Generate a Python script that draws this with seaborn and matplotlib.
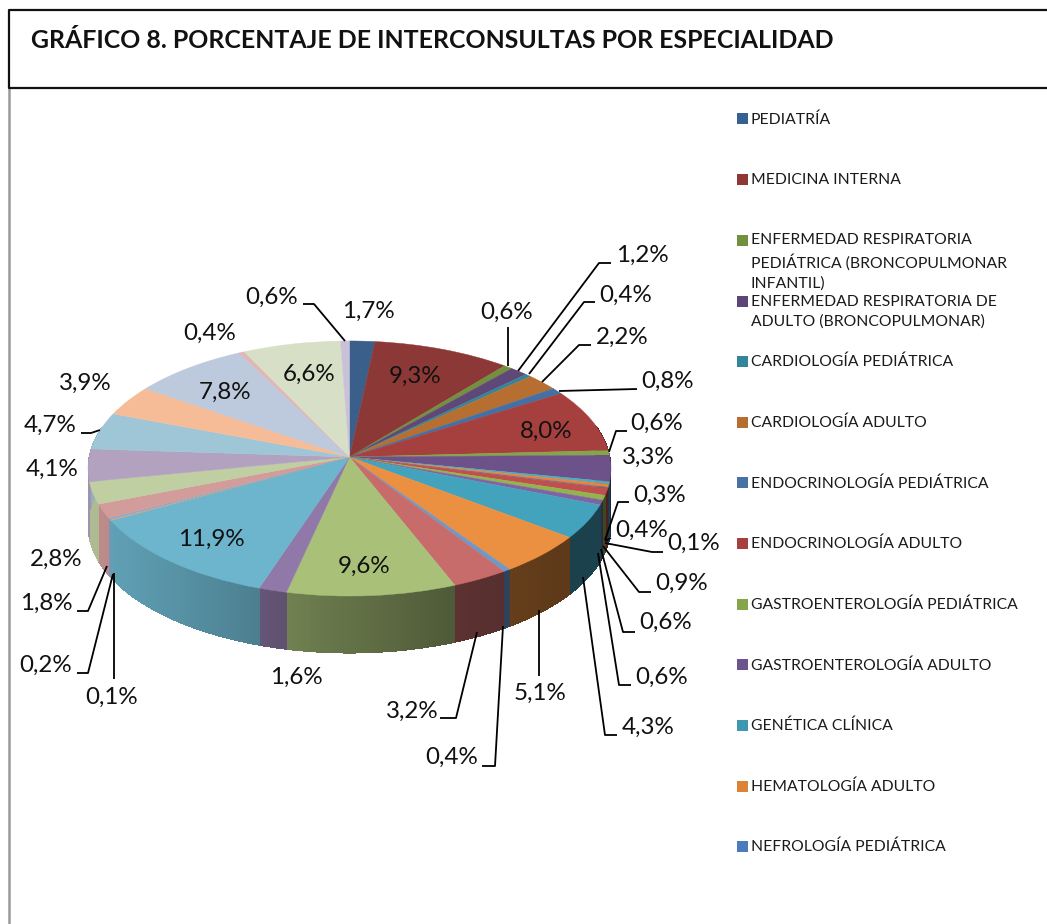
import numpy as np
import matplotlib
matplotlib.use("Agg")
import matplotlib.pyplot as plt
from matplotlib.patches import Rectangle
from matplotlib.collections import PolyCollection
from matplotlib.transforms import Transform
import seaborn as sns

TITLE = "GRÁFICO 8. PORCENTAJE DE INTERCONSULTAS POR ESPECIALIDAD"

# Slices, clockwise from twelve o'clock
values = [1.7, 9.3, 0.6, 1.2, 0.4, 2.2, 0.8, 8.0, 0.6, 3.3, 0.3, 0.4, 0.1, 0.9, 0.6, 0.6, 4.3,
          5.1, 0.4, 3.2, 9.6, 1.6, 11.9, 0.1, 0.2, 1.8, 2.8, 4.1, 4.7, 3.9, 7.8, 0.4, 6.6, 0.6]

slice_colors = ["#3A5F8B", "#8C3836", "#748F3E", "#5F4878", "#33859A", "#B66F30", "#4470A6", "#A5403E",
                "#86A44A", "#6C5288", "#4BACC6", "#E5843A", "#4F81BD", "#BF504D", "#93B34F", "#8064A2",
                "#43A3BD", "#EA9040", "#6F98C8", "#C76C6A", "#A8C078", "#9079A8", "#6CB5CD", "#F0A060",
                "#8AA8D0", "#D19C9A", "#C0CFA2", "#B2A2C0", "#9FC6D6", "#F6BC98", "#BDC9DC", "#DDB8B6",
                "#D7DFC6", "#C9C1D7"]

# Legend
legend_labels = ["PEDIATRÍA", "MEDICINA INTERNA",
                 "ENFERMEDAD RESPIRATORIA\nPEDIÁTRICA (BRONCOPULMONAR\nINFANTIL)",
                 "ENFERMEDAD RESPIRATORIA DE\nADULTO (BRONCOPULMONAR)",
                 "CARDIOLOGÍA PEDIÁTRICA", "CARDIOLOGÍA ADULTO", "ENDOCRINOLOGÍA PEDIÁTRICA",
                 "ENDOCRINOLOGÍA ADULTO", "GASTROENTEROLOGÍA PEDIÁTRICA", "GASTROENTEROLOGÍA ADULTO",
                 "GENÉTICA CLÍNICA", "HEMATOLOGÍA ADULTO", "NEFROLOGÍA PEDIÁTRICA"]
legend_colors = ["#376092", "#8E3835", "#748F3E", "#5D4578", "#33859A", "#B66D31", "#4672A6",
                 "#A5403E", "#86A44A", "#6E548D", "#3F98AF", "#DB8438", "#4B7BBA"]
legend_y = [118.5, 179, 240, 301, 361, 422, 482.5, 543, 604, 664.5, 725, 786, 846]

# Layout only (pixel positions)
label_pos = [(368, 310), (415, 375), (507, 311), (642, 254), (626, 294), (622, 336), (667, 380), (546, 430),
             (657, 422), (648, 456), (660, 494), (642, 529), (694, 542), (682, 582), (666, 621), (662, 676),
             (648, 726), (540, 692), (452, 756), (412, 710), (364, 565), (296, 676), (211, 538), (112, 696),
             (46, 664), (46, 602), (56, 558), (52, 468), (50, 424), (85, 382), (225, 391), (210, 332),
             (309, 373), (272, 296)]
leaders = [[(508, 327), (508, 366)],
           [(611, 263), (599, 263), (518, 371)],
           [(595, 302), (584, 302), (529, 374)],
           [(591, 345), (579, 345), (542, 382)],
           [(637, 389), (559, 391)],
           [(627, 431), (616, 431), (609, 452)],
           [(629, 502), (618, 502), (605, 540)],
           [(611, 538), (605, 541)],
           [(663, 552), (652, 552), (605, 543)],
           [(651, 592), (639, 592), (603, 546)],
           [(635, 632), (623, 632), (601, 549)],
           [(631, 685), (619, 685), (598, 553)],
           [(617, 735), (605, 735), (583, 577)],
           [(539, 676), (539, 610)],
           [(482, 766), (495, 766), (503, 626)],
           [(440, 718), (456, 718), (477, 632)],
           [(114, 679), (114, 573)],
           [(77, 673), (88, 673), (113, 574)],
           [(77, 611), (88, 611), (107, 566)],
           [(81, 433), (91, 433), (100, 430)],
           [(303, 304), (314, 304), (345, 341)]]

CX, CY, A, B, K, DEPTH = 349.5, 457.0, 126.5, 260.4, 0.0902, 57.0
FONT = "Lato"


class TiltedDisc(Transform):
    """Projects the unit pie disc onto the tilted plane seen in the picture."""
    input_dims = output_dims = 2
    is_separable = False
    has_inverse = False

    def transform_non_affine(self, xy):
        xy = np.asarray(xy, float)
        w = 1 + K * xy[:, 1]
        return np.column_stack([CX + B * xy[:, 0] / w, CY - A * xy[:, 1] / w])


sns.set_theme(style="white")
plt.rcParams["font.family"] = [FONT, "DejaVu Sans"]

fig = plt.figure(figsize=(10.47, 9.24), dpi=100, facecolor="white")
ax = fig.add_axes([0, 0, 1, 1])
wedges, _ = ax.pie(values, colors=slice_colors, startangle=90, counterclock=False,
                   wedgeprops=dict(linewidth=0.3), radius=1.0)
ax.set_aspect("auto")
ax.set_xlim(0, 1047)
ax.set_ylim(924, 0)
ax.axis("off")

disc = TiltedDisc()
for w in wedges:
    w.set_transform(disc + ax.transData)
    w.set_zorder(3)
    w.set_edgecolor(w.get_facecolor())

# Extruded rim under the front half of the disc
quads, shades = [], []
for w, col in zip(wedges, slice_colors):
    th = np.radians(np.arange(w.theta1, w.theta2 + 1.0, 1.0))
    if len(th) < 2:
        th = np.radians([w.theta1, w.theta2])
    else:
        th[-1] = np.radians(w.theta2)
    pts = disc.transform_non_affine(np.column_stack([np.cos(th), np.sin(th)]))
    rgb = np.array(matplotlib.colors.to_rgb(col))
    for p, q, t in zip(pts[:-1], pts[1:], th[:-1]):
        if np.sin(t) > 0.25:
            continue
        quads.append([p, q, q + (0, DEPTH), p + (0, DEPTH)])
        f = np.interp((p[0] + q[0]) / 2, [100, 450, 560], [0.9, 0.47, 0.4])
        shades.append(rgb * f)
ax.add_collection(PolyCollection(quads, facecolors=shades, edgecolors="none", linewidths=0,
                                 antialiaseds=False, zorder=2))

# Value labels and leader lines
for v, (x, y) in zip(values, label_pos):
    ax.text(x, y + 1, f"{v:.1f}%".replace(".", ","), ha="center", va="center", fontsize=17.4,
            color="#111111", zorder=5)
for line in leaders:
    xs, ys = zip(*line)
    ax.plot(xs, ys, color="black", lw=1.3, zorder=4, solid_capstyle="butt")

# Legend
for lab, col, y in zip(legend_labels, legend_colors, legend_y):
    ax.add_patch(Rectangle((737, y - 5.5), 11, 11, facecolor=col, edgecolor="none", zorder=4))
    ax.text(751, y - 6.5, lab, ha="left", va="top", fontsize=11.35, color="#1a1a1a",
            linespacing=1.5, zorder=5)

# Frame and title
ax.plot([9, 9], [88, 924], color="#999999", lw=1.8, zorder=1)
ax.plot([1047, 9, 9, 1047], [10, 10, 88, 88], color="#111111", lw=1.6, zorder=6)
ax.text(31, 41, TITLE, ha="left", va="center", fontsize=17.94, fontweight="bold", color="#111111", zorder=6)

fig.savefig("out.png", dpi=100, facecolor="white")
